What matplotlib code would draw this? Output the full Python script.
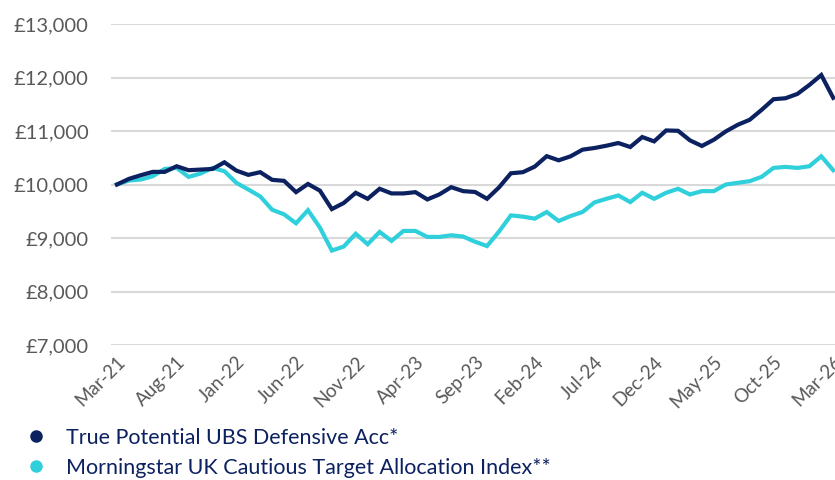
import matplotlib
matplotlib.use("Agg")
import matplotlib.pyplot as plt
from matplotlib.lines import Line2D
from matplotlib.ticker import FuncFormatter

months = ["Mar-21", "Apr-21", "May-21", "Jun-21", "Jul-21", "Aug-21", "Sep-21", "Oct-21", "Nov-21", "Dec-21",
          "Jan-22", "Feb-22", "Mar-22", "Apr-22", "May-22", "Jun-22", "Jul-22", "Aug-22", "Sep-22", "Oct-22",
          "Nov-22", "Dec-22", "Jan-23", "Feb-23", "Mar-23", "Apr-23", "May-23", "Jun-23", "Jul-23", "Aug-23",
          "Sep-23", "Oct-23", "Nov-23", "Dec-23", "Jan-24", "Feb-24", "Mar-24", "Apr-24", "May-24", "Jun-24",
          "Jul-24", "Aug-24", "Sep-24", "Oct-24", "Nov-24", "Dec-24", "Jan-25", "Feb-25", "Mar-25", "Apr-25",
          "May-25", "Jun-25", "Jul-25", "Aug-25", "Sep-25", "Oct-25", "Nov-25", "Dec-25", "Jan-26", "Feb-26",
          "Mar-26"]

ubs_defensive = [10000, 10105, 10174, 10236, 10236, 10341, 10267, 10279, 10291, 10415,
                 10260, 10180, 10230, 10087, 10068, 9857, 10010, 9885, 9540, 9655,
                 9845, 9733, 9920, 9833, 9833, 9857, 9721, 9814, 9950, 9876,
                 9860, 9733, 9945, 10210, 10230, 10335, 10530, 10452, 10527, 10651,
                 10682, 10725, 10775, 10701, 10887, 10806, 11010, 11004, 10825, 10720,
                 10837, 10992, 11116, 11209, 11395, 11594, 11612, 11693, 11860, 12046,
                 11620]

morningstar_cautious = [10000, 10074, 10093, 10155, 10291, 10310, 10143, 10205, 10310, 10248,
                        10031, 9907, 9777, 9528, 9442, 9275, 9520, 9194, 8765, 8841,
                        9080, 8884, 9113, 8946, 9132, 9132, 9020, 9020, 9051, 9027,
                        8930, 8850, 9120, 9423, 9399, 9362, 9486, 9318, 9411, 9486,
                        9665, 9733, 9795, 9671, 9845, 9733, 9845, 9920, 9814, 9876,
                        9876, 10000, 10031, 10062, 10143, 10310, 10329, 10310, 10341, 10527,
                        10267]

series_labels = ["True Potential UBS Defensive Acc*",
                 "Morningstar UK Cautious Target Allocation Index**"]
y_ticks = [7000, 8000, 9000, 10000, 11000, 12000, 13000]

NAVY = "#0c2160"
CYAN = "#2fd0dc"
GREY_TXT = "#595959"
GRID = "#d9d9d9"

plt.rcParams['font.family'] = ['Lato', 'DejaVu Sans']

fig = plt.figure(figsize=(8.35, 4.8), dpi=100)
ax = fig.add_axes([111 / 835, 1 - 345 / 480, (835 - 111) / 835, (345 - 24) / 480])

x = list(range(len(months)))
ax.plot(x, ubs_defensive, color=NAVY, lw=3, solid_joinstyle='miter', zorder=3)
ax.plot(x, morningstar_cautious, color=CYAN, lw=3, solid_joinstyle='miter', zorder=2)

ax.set_ylim(7000, 13000)
ax.set_xlim(-0.5, 60.15)
ax.set_yticks(y_ticks)
ax.yaxis.set_major_formatter(FuncFormatter(lambda v, p: "£{:,.0f}".format(v)))
ax.grid(axis='y', color=GRID, lw=1.5, zorder=0)
ax.set_axisbelow(True)
for s in ax.spines.values():
    s.set_visible(False)
ax.tick_params(axis='both', length=0, colors=GREY_TXT)
ax.tick_params(axis='y', pad=16, labelsize=14.5)

tick_idx = x[::5]
ax.set_xticks(tick_idx)
ax.set_xticklabels([months[i] for i in tick_idx], rotation=45, ha='right', va='top',
                   rotation_mode='anchor')
ax.tick_params(axis='x', pad=6, labelsize=13.5)

handles = [Line2D([], [], color=NAVY, marker='o', linestyle='none', markersize=8),
           Line2D([], [], color=CYAN, marker='o', linestyle='none', markersize=8)]
leg = fig.legend(handles, series_labels, loc='upper left', bbox_to_anchor=(19 / 835, 1 - 428 / 480),
                 frameon=False, fontsize=15.5, handletextpad=0.6, handlelength=1.6,
                 labelspacing=0.45, borderpad=0, borderaxespad=0)
for t in leg.get_texts():
    t.set_color(NAVY)

fig.savefig("out.png", dpi=100)
